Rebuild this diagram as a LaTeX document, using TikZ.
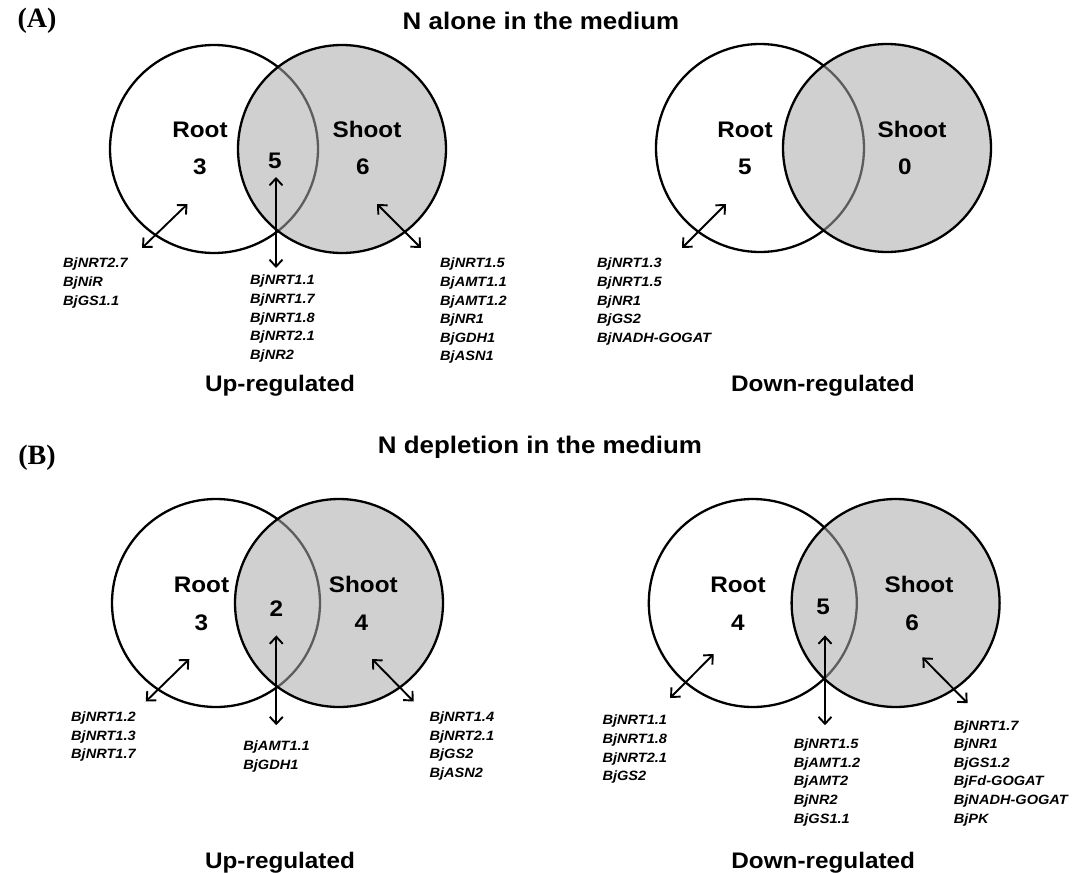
\documentclass[tikz,border=0pt]{standalone}
\usepackage{fontspec}
\setmainfont{Liberation Sans}
\newfontfamily\hv[FakeStretch=1.08]{Liberation Sans}
\newfontfamily\tms{Liberation Serif}
\usetikzlibrary{arrows.meta}
\tikzset{
  rootc/.style={circle, minimum size=208pt, inner sep=0pt, line width=2.3pt, draw=black, fill=white},
  shootc/.style={circle, minimum size=208pt, inner sep=0pt, line width=2.3pt, draw=black,
    fill={rgb,255:red,170;green,170;blue,170}, fill opacity=0.55},
  lbl/.style={font=\hv\bfseries\fontsize{22.5}{27}\selectfont, inner sep=0pt, anchor=base},
  ttl/.style={font=\hv\bfseries\fontsize{24}{28}\selectfont, inner sep=0pt, anchor=base},
  genes/.style={font=\hv\bfseries\itshape\fontsize{13.5}{18.6}\selectfont, align=left, anchor=north west, inner sep=0pt},
  link/.style={line width=1.9pt, {Straight Barb[length=7pt,width=13pt]}-{Straight Barb[length=7pt,width=13pt]}},
  panel/.style={font=\tms\bfseries\fontsize{28}{30}\selectfont, inner sep=0pt},
}
\begin{document}
\begin{tikzpicture}[x=1pt,y=-1pt]
\useasboundingbox[fill=white] (0,0) rectangle (1088,873);

% ---------- Panel A ----------
\node[panel] (labA) at (37,21) {(A)};
\node[ttl] (titleA) at (541,29) {N alone in the medium};

% A up
\node[rootc] (aL) at (214,149) {};
\node[shootc] (aR) at (342,149) {};
\node[lbl] (aRootT) at (200,137) {Root};
\node[lbl] (aRootN) at (200,174.5) {3};
\node[lbl] (aMidN) at (275,168) {5};
\node[lbl] (aShootT) at (367,137) {Shoot};
\node[lbl] (aShootN) at (363,174.5) {6};
\coordinate (aA1s) at (187.5,204); \coordinate (aA1e) at (142,248);
\coordinate (aA2s) at (276,177);   \coordinate (aA2e) at (276,268);
\coordinate (aA3s) at (377,204);   \coordinate (aA3e) at (421,248);
\draw[link] (aA1s) -- (aA1e);
\draw[link] (aA2s) -- (aA2e);
\draw[link] (aA3s) -- (aA3e);
\node[genes] (aG1) at (63,258) {BjNRT2.7\\BjNiR\\BjGS1.1};
\node[genes] (aG2) at (250,275) {BjNRT1.1\\BjNRT1.7\\BjNRT1.8\\BjNRT2.1\\BjNR2};
\node[genes] (aG3) at (440,258) {BjNRT1.5\\BjAMT1.1\\BjAMT1.2\\BjNR1\\BjGDH1\\BjASN1};
\node[lbl] (aUp) at (280,391) {Up-regulated};

% A down
\node[rootc] (bL) at (760,148) {};
\node[shootc] (bR) at (887,148) {};
\node[lbl] (bRootT) at (745,137) {Root};
\node[lbl] (bRootN) at (745,174.5) {5};
\node[lbl] (bShootT) at (912,137) {Shoot};
\node[lbl] (bShootN) at (905,174.5) {0};
\coordinate (bA1s) at (726,204); \coordinate (bA1e) at (682,248);
\draw[link] (bA1s) -- (bA1e);
\node[genes] (bG1) at (597,258) {BjNRT1.3\\BjNRT1.5\\BjNR1\\BjGS2\\BjNADH-GOGAT};
\node[lbl] (bDown) at (823,391) {Down-regulated};

% ---------- Panel B ----------
\node[panel] (labB) at (37,458) {(B)};
\node[ttl] (titleB) at (540,453) {N depletion in the medium};

% B up
\node[rootc] (cL) at (216,603) {};
\node[shootc] (cR) at (339,603) {};
\node[lbl] (cRootT) at (201.5,592.5) {Root};
\node[lbl] (cRootN) at (201.5,630) {3};
\node[lbl] (cMidN) at (276.3,616.3) {2};
\node[lbl] (cShootT) at (363.3,592.5) {Shoot};
\node[lbl] (cShootN) at (361.5,630) {4};
\coordinate (cA1s) at (189.3,659); \coordinate (cA1e) at (145.8,701.5);
\coordinate (cA2s) at (276.3,635.4); \coordinate (cA2e) at (276.3,725.2);
\coordinate (cA3s) at (372,659); \coordinate (cA3e) at (413.7,701.5);
\draw[link] (cA1s) -- (cA1e);
\draw[link] (cA2s) -- (cA2e);
\draw[link] (cA3s) -- (cA3e);
\node[genes] (cG1) at (71,711.7) {BjNRT1.2\\BjNRT1.3\\BjNRT1.7};
\node[genes] (cG2) at (243.2,740.5) {BjAMT1.1\\BjGDH1};
\node[genes] (cG3) at (429.4,711.7) {BjNRT1.4\\BjNRT2.1\\BjGS2\\BjASN2};
\node[lbl] (cUp) at (280,868.8) {Up-regulated};

% B down
\node[rootc] (dL) at (752.8,603) {};
\node[shootc] (dR) at (895.6,603) {};
\node[lbl] (dRootT) at (738,592.5) {Root};
\node[lbl] (dRootN) at (738,630) {4};
\node[lbl] (dMidN) at (823.2,614.6) {5};
\node[lbl] (dShootT) at (919,592.5) {Shoot};
\node[lbl] (dShootN) at (912,630) {6};
\coordinate (dA1s) at (713.7,654); \coordinate (dA1e) at (670.1,698);
\coordinate (dA2s) at (825,635.4); \coordinate (dA2e) at (825,725.2);
\coordinate (dA3s) at (922.4,657.4); \coordinate (dA3e) at (967.6,703.2);
\draw[link] (dA1s) -- (dA1e);
\draw[link] (dA2s) -- (dA2e);
\draw[link] (dA3s) -- (dA3e);
\node[genes] (dG1) at (602.3,715) {BjNRT1.1\\BjNRT1.8\\BjNRT2.1\\BjGS2};
\node[genes] (dG2) at (793.7,738.8) {BjNRT1.5\\BjAMT1.2\\BjAMT2\\BjNR2\\BjGS1.1};
\node[genes] (dG3) at (953.7,720.2) {BjNRT1.7\\BjNR1\\BjGS1.2\\BjFd-GOGAT\\BjNADH-GOGAT\\BjPK};
\node[lbl] (dDown) at (823.2,868.8) {Down-regulated};
\end{tikzpicture}
\end{document}
